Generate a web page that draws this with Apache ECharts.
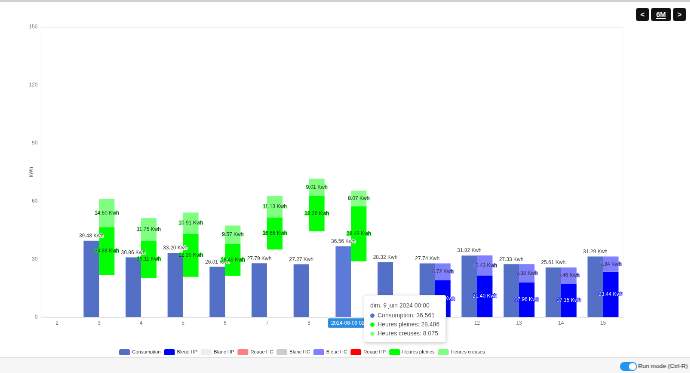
<!DOCTYPE html>
<html>
<head>
<meta charset="utf-8">
<script src="https://cdn.jsdelivr.net/npm/echarts@6/dist/echarts.min.js"></script>
<style>
html,body{margin:0;padding:0;width:690px;height:373px;overflow:hidden;background:#fff;font-family:'Liberation Sans',Arial,sans-serif}
#wrap{position:absolute;left:0;top:0;width:1605px;height:867px;transform:scale(0.43);transform-origin:0 0}
#chart{width:1605px;height:867px}
#topline{position:absolute;left:0;top:0;width:690px;height:2px;background:#cfcfcf;z-index:5}
.btn{position:absolute;top:8px;height:13px;background:#111;border-radius:2px;color:#fff;font-size:7px;font-weight:bold;text-align:center;line-height:13px;z-index:5}
#bottombar{position:absolute;left:0;top:357px;width:690px;height:16px;background:#f6f6f6;border-top:1px solid #e2e2e2;z-index:5}
#toggle{position:absolute;left:620px;top:4px;width:17px;height:9px;border-radius:5px;background:#2196f3}
#knob{position:absolute;right:1px;top:1px;width:7px;height:7px;border-radius:50%;background:#fff}
#runtxt{position:absolute;left:638px;top:3px;font-size:6.1px;line-height:10px;color:#222;white-space:nowrap}
</style>
</head>
<body>
<div id="topline"></div>
<div class="btn" style="left:636px;width:13px">&lt;</div>
<div class="btn" style="left:651px;width:20px;text-decoration:underline">6M</div>
<div class="btn" style="left:673px;width:13px">&gt;</div>
<div id="wrap"><div id="chart"></div></div>
<div id="bottombar"><div id="toggle"><div id="knob"></div></div><div id="runtxt">Run mode (Ctrl-R)</div></div>
<script>
// ---------- data ----------
const days = [2, 3, 4, 5, 6, 7, 8, 9, 10, 11, 12, 13, 14, 15];
const consumption   = [null, 39.48, 30.86, 33.20, 26.01, 27.79, 27.27, 36.561, 28.32, 27.74, 31.82, 27.33, 25.61, 31.29];
const stackBase     = [null, 21.6, 20.3, 20.8, 21.3, 34.9, 44.3, 28.8, null, null, null, null, null, null];
const heuresPleines = [null, 24.88, 19.11, 22.30, 16.45, 16.66, 18.26, 28.486, null, null, null, null, null, null];
const heuresCreuses = [null, 14.60, 11.75, 10.91, 9.57, 11.13, 9.01, 8.075, null, null, null, null, null, null];
const bleueHP       = [null, null, null, null, null, null, null, null, null, 19.02, 21.40, 17.96, 17.15, 23.44];
const bleueHC       = [null, null, null, null, null, null, null, null, null, 8.72, 10.43, 9.38, 8.46, 7.84];
const blancHP       = [null, null, null, null, null, null, null, null, null, null, null, null, null, null];
const rougeHC       = [null, null, null, null, null, null, null, null, null, null, null, null, null, null];
const blancHC       = [null, null, null, null, null, null, null, null, null, null, null, null, null, null];
const rougeHP       = [null, null, null, null, null, null, null, null, null, null, null, null, null, null];
const yMin = 0, yMax = 150, yStep = 30;
const legendNames = ['Consumption', 'Bleue HP', 'Blanc HP', 'Rouge HC', 'Blanc HC', 'Bleue HC', 'Rouge HP', 'Heures pleines', 'Heures creuses'];
const JOURS = ['dim.', 'lun.', 'mar.', 'mer.', 'jeu.', 'ven.', 'sam.'];
const MOIS = ['janv.', 'févr.', 'mars', 'avr.', 'mai', 'juin', 'juil.', 'août', 'sept.', 'oct.', 'nov.', 'déc.'];

// ---------- styles ----------
const COLORS = {
  'Consumption': '#5470c6', 'Bleue HP': '#0000ff', 'Blanc HP': '#eeeeee', 'Rouge HC': '#ff7f7f',
  'Blanc HC': '#cccccc', 'Bleue HC': '#7f7fff', 'Rouge HP': '#ff0000',
  'Heures pleines': '#00ff00', 'Heures creuses': '#7fff7f'
};
const LABEL_TXT = {
  'Bleue HP': '#ffffff', 'Bleue HC': '#333333', 'Heures pleines': '#333333', 'Heures creuses': '#333333',
  'Blanc HP': '#333333', 'Rouge HC': '#333333', 'Blanc HC': '#333333', 'Rouge HP': '#ffffff'
};
const BASE = '_base';
const BAR_W = 36;
const DAY = 86400000;
const GRID = { left: 95.3, right: 156.2, top: 62.8, bottom: 129.8 };
const CW = 1605;
const ts = d => new Date(2024, 5, d).getTime();
const xMin = ts(2) - 0.382 * DAY;
const xMax = xMin + 13.857 * DAY;
const pad = n => String(n).padStart(2, '0');
const fmtLabel = p => (p.value[1] == null ? '' : Number(p.value[1]).toFixed(2) + ' Kwh');

function bar(name, values, stack, label, extra) {
  const s = {
    name: name, type: 'bar', barWidth: BAR_W, barGap: '0%',
    itemStyle: { color: COLORS[name] || 'rgba(0,0,0,0)' },
    label: label,
    data: values.map((v, i) => [ts(days[i]), v])
  };
  if (stack) s.stack = stack;
  return Object.assign(s, extra || {});
}
function insideLabel(name) {
  return { show: true, position: 'inside', formatter: fmtLabel, fontSize: 12,
    color: LABEL_TXT[name], textBorderColor: COLORS[name], textBorderWidth: 2 };
}

const series = [
  bar('Consumption', consumption, null, { show: true, position: 'top', formatter: fmtLabel, fontSize: 12,
      color: '#444', textBorderColor: '#fff', textBorderWidth: 2 }),
  bar(BASE, stackBase, 'tariff', { show: false }, { silent: true, itemStyle: { color: 'rgba(0,0,0,0)' },
      emphasis: { disabled: true } }),
  bar('Bleue HP', bleueHP, 'tariff', insideLabel('Bleue HP')),
  bar('Blanc HP', blancHP, 'tariff', insideLabel('Blanc HP')),
  bar('Rouge HC', rougeHC, 'tariff', insideLabel('Rouge HC')),
  bar('Blanc HC', blancHC, 'tariff', insideLabel('Blanc HC')),
  bar('Bleue HC', bleueHC, 'tariff', insideLabel('Bleue HC')),
  bar('Rouge HP', rougeHP, 'tariff', insideLabel('Rouge HP')),
  bar('Heures pleines', heuresPleines, 'tariff', insideLabel('Heures pleines')),
  bar('Heures creuses', heuresCreuses, 'tariff', insideLabel('Heures creuses'))
];

const pointerLabelFmt = p => echarts.time.format(p.value, '{yyyy}-{MM}-{dd} {HH}:{mm}:{ss}', false);

const chart = echarts.init(document.getElementById('chart'), null, { renderer: 'canvas' });
chart.setOption({
  animation: false,
  textStyle: { fontFamily: 'Liberation Sans' },
  grid: Object.assign({ show: true, borderColor: '#e4e4e4', borderWidth: 1, backgroundColor: 'transparent' }, GRID),
  legend: {
    data: legendNames, left: 272, top: 807, itemWidth: 25, itemHeight: 14, itemGap: 8,
    textStyle: { fontSize: 11.3, color: '#333', fontFamily: 'Liberation Sans' }
  },
  tooltip: {
    trigger: 'axis', alwaysShowContent: true, transitionDuration: 0,
    backgroundColor: '#fff', borderColor: '#dddddd', borderWidth: 1, padding: [10, 14],
    extraCssText: 'box-shadow:1px 2px 10px rgba(0,0,0,0.18);border-radius:4px;',
    textStyle: { fontFamily: 'Liberation Sans', fontSize: 14, color: '#555' },
    position: () => [846, 686],
    axisPointer: {
      type: 'line', snap: false,
      lineStyle: { color: '#b9bec9', type: 'dashed', width: 1 },
      label: { show: true, backgroundColor: '#2d8ee0', color: '#fff', fontSize: 12, formatter: pointerLabelFmt }
    },
    formatter: params => {
      const list = params.filter(p => p.seriesName !== BASE && p.value[1] != null);
      if (!list.length) return '';
      const d = new Date(list[0].value[0]);
      const title = JOURS[d.getDay()] + ' ' + d.getDate() + ' ' + MOIS[d.getMonth()] + ' ' + d.getFullYear() + ' ' + pad(d.getHours()) + ':' + pad(d.getMinutes());
      let html = '<div style="line-height:26px;font-size:14px;color:#555">' + title + '</div>';
      list.forEach(p => {
        html += '<div style="line-height:21px;font-size:14px;color:#555"><span style="display:inline-block;width:10px;height:10px;border-radius:50%;background:' +
          COLORS[p.seriesName] + ';margin-right:7px;vertical-align:-1px"></span>' + p.seriesName + ': ' + p.value[1] + '</div>';
      });
      return html;
    }
  },
  xAxis: {
    type: 'time', min: xMin, max: xMax, minInterval: DAY, maxInterval: DAY,
    axisTick: { show: false },
    splitLine: { show: false },
    axisLine: { lineStyle: { color: '#6e7079' } },
    axisPointer: {
      snap: false,
      label: { show: true, backgroundColor: '#2d8ee0', color: '#fff', fontSize: 12, formatter: pointerLabelFmt }
    },
    axisLabel: {
      fontSize: 12, color: '#6e7079', showMinLabel: false, showMaxLabel: false, hideOverlap: false,
      formatter: v => { const d = new Date(v); return (d.getHours() || d.getMinutes()) ? '' : String(d.getDate()); }
    }
  },
  yAxis: {
    type: 'value', min: yMin, max: yMax, interval: yStep,
    name: 'kWh', nameLocation: 'middle', nameGap: 17, nameMoveOverlap: false,
    nameTextStyle: { fontSize: 12, color: '#6e7079' },
    axisLabel: { fontSize: 12, color: '#6e7079' },
    splitLine: { lineStyle: { color: '#e0e6f1' } }
  },
  series: series
});

// The library may pad a time axis holding bars; correct min/max so the visible
// extent of the axis (as reported by the library's own scale) is [xMin, xMax].
(function fitExtent() {
  let curMin = xMin, curMax = xMax;
  const gl = GRID.left, gr = CW - GRID.right;
  for (let k = 0; k < 6; k++) {
    const p2 = chart.convertToPixel({ xAxisIndex: 0 }, ts(2));
    const p15 = chart.convertToPixel({ xAxisIndex: 0 }, ts(15));
    if (!isFinite(p2) || !isFinite(p15)) break;
    const b = (p15 - p2) / (ts(15) - ts(2));
    const effMin = ts(2) - (p2 - gl) / b;
    const effMax = ts(15) + (gr - p15) / b;
    if (Math.abs(effMin - xMin) < 1000 && Math.abs(effMax - xMax) < 1000) break;
    curMin += xMin - effMin;
    curMax += xMax - effMax;
    chart.setOption({ xAxis: { min: curMin, max: curMax } });
  }
})();

setTimeout(() => {
  chart.dispatchAction({ type: 'showTip', x: 825.6, y: 640 });
}, 50);
</script>
</body>
</html>
